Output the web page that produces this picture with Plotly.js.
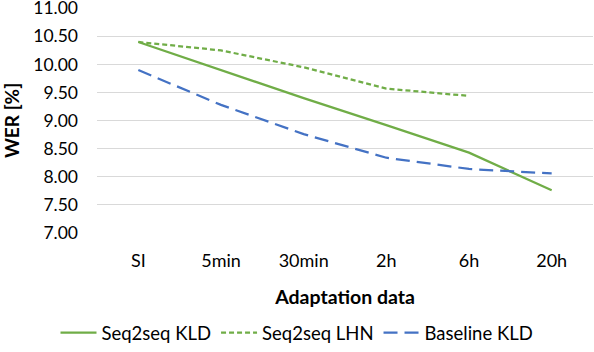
<!DOCTYPE html>
<html>
<head>
<script src="https://cdn.plot.ly/plotly-3.0.1.min.js"></script>
<style>body{margin:0;background:#fff}</style>
</head>
<body>
<div id="chart" style="width:594px;height:352px"></div>
<script>
let categories = ['SI', '5min', '30min', '2h', '6h', '20h'];
let seq2seqKld = [10.40, 9.90, 9.40, 8.92, 8.43, 7.76];
let seq2seqLhn = [10.40, 10.25, 9.95, 9.57, 9.44, null];
let baselineKld = [9.90, 9.28, 8.76, 8.34, 8.14, 8.06];
let yTicks = [7, 7.5, 8, 8.5, 9, 9.5, 10, 10.5, 11];

let font = 'Lato, "Open Sans", sans-serif';

let trace1 = {
  x: categories,
  y: seq2seqKld,
  name: 'Seq2seq KLD',
  type: 'scatter',
  mode: 'lines',
  line: {color: '#70AD47', width: 2.25}
};

let trace2 = {
  x: categories,
  y: seq2seqLhn,
  name: 'Seq2seq LHN',
  type: 'scatter',
  mode: 'lines',
  line: {color: '#70AD47', width: 2.25, dash: '5px,3px'}
};

let trace3 = {
  x: categories,
  y: baselineKld,
  name: 'Baseline KLD',
  type: 'scatter',
  mode: 'lines',
  line: {color: '#4472C4', width: 2.25, dash: '14px,7px'}
};

let layout = {
  width: 594,
  height: 352,
  margin: {l: 97, r: 1, t: 8, b: 119},
  paper_bgcolor: '#fff',
  plot_bgcolor: '#fff',
  font: {family: font, size: 18, color: '#000'},
  showlegend: true,
  legend: {
    orientation: 'h',
    xref: 'container',
    yref: 'container',
    x: 0.5,
    xanchor: 'center',
    y: 0.0,
    yanchor: 'bottom',
    font: {family: font, size: 18.5, color: '#000'},
    itemwidth: 36,
    tracegroupgap: 0
  },
  xaxis: {
    type: 'category',
    range: [-0.5, 5.5],
    showgrid: false,
    zeroline: false,
    showline: false,
    ticks: '',
    ticklabelstandoff: 15,
    title: {text: '<b>Adaptation data</b>', standoff: 20, font: {family: font, size: 19.5}}
  },
  yaxis: {
    range: [7, 11.005],
    tickvals: yTicks,
    tickformat: '.2f',
    ticklabeloverflow: 'allow',
    tickfont: {size: 17.5},
    showgrid: true,
    gridcolor: '#d9d9d9',
    gridwidth: 1,
    zeroline: false,
    showline: false,
    ticks: '',
    ticklabelstandoff: 18,
    title: {text: '<b>WER [%]</b>', standoff: 8, font: {family: font, size: 19}}
  }
};

Plotly.newPlot('chart', [trace1, trace2, trace3], layout, {displayModeBar: false});
</script>
</body>
</html>
